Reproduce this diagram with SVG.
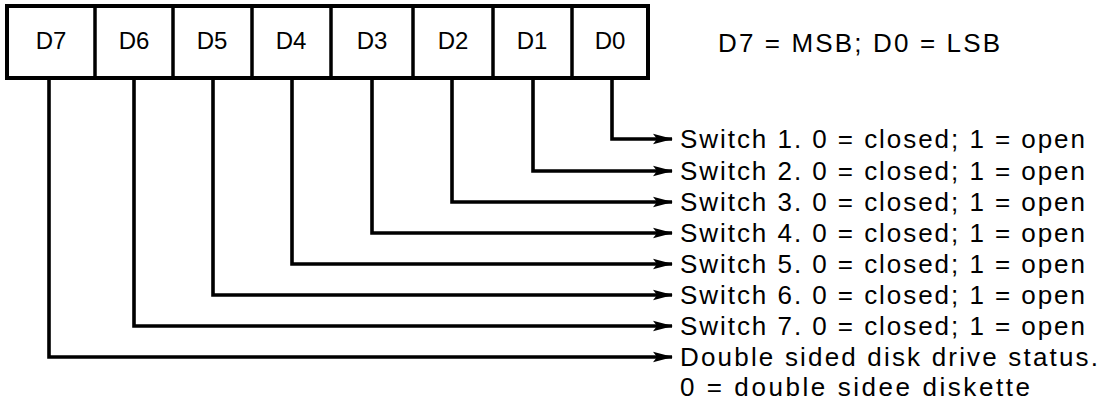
<svg xmlns="http://www.w3.org/2000/svg" width="1103" height="402" viewBox="0 0 1103 402">
<style>
.box{fill:none;stroke:#000;stroke-width:4}
.div{stroke:#000;stroke-width:3.5}
.lbl{font-family:"Liberation Sans",Arial,sans-serif;font-size:24px;fill:#000;text-anchor:middle}
.txt{font-family:"Liberation Sans",Arial,sans-serif;font-size:26px;fill:#000}
.wire{fill:none;stroke:#000;stroke-width:3.6;stroke-linejoin:miter}
</style>
<defs>
<marker id="ah" markerWidth="20" markerHeight="12" refX="19" refY="6" orient="auto" markerUnits="userSpaceOnUse">
<path d="M0,0.8 L20,6 L0,11.2 L4,6 Z" fill="#000"/>
</marker>
</defs>
<rect width="1103" height="402" fill="#fff"/>
<g id="register">
<rect class="box" x="7" y="6" width="641" height="72"/>
<line class="div" x1="95" y1="6" x2="95" y2="78"/>
<line class="div" x1="173" y1="6" x2="173" y2="78"/>
<line class="div" x1="252" y1="6" x2="252" y2="78"/>
<line class="div" x1="331" y1="6" x2="331" y2="78"/>
<line class="div" x1="413" y1="6" x2="413" y2="78"/>
<line class="div" x1="493" y1="6" x2="493" y2="78"/>
<line class="div" x1="572" y1="6" x2="572" y2="78"/>
</g>
<g id="bit-d7"><text class="lbl" x="51" y="49">D7</text></g>
<g id="bit-d6"><text class="lbl" x="134" y="49">D6</text></g>
<g id="bit-d5"><text class="lbl" x="212" y="49">D5</text></g>
<g id="bit-d4"><text class="lbl" x="291" y="49">D4</text></g>
<g id="bit-d3"><text class="lbl" x="372" y="49">D3</text></g>
<g id="bit-d2"><text class="lbl" x="453" y="49">D2</text></g>
<g id="bit-d1"><text class="lbl" x="532" y="49">D1</text></g>
<g id="bit-d0"><text class="lbl" x="610" y="49">D0</text></g>
<g id="legend"><text class="txt" x="718" y="52" textLength="282" lengthAdjust="spacing">D7 = MSB; D0 = LSB</text></g>
<g id="connectors">
<path class="wire" d="M612,78 V139 H672" marker-end="url(#ah)"/>
<path class="wire" d="M533,78 V171 H672" marker-end="url(#ah)"/>
<path class="wire" d="M452,78 V202 H672" marker-end="url(#ah)"/>
<path class="wire" d="M372,78 V233 H672" marker-end="url(#ah)"/>
<path class="wire" d="M292,78 V264 H672" marker-end="url(#ah)"/>
<path class="wire" d="M213,78 V295 H672" marker-end="url(#ah)"/>
<path class="wire" d="M134,78 V326 H672" marker-end="url(#ah)"/>
<path class="wire" d="M49,78 V357 H672" marker-end="url(#ah)"/>
</g>
<g id="desc-d0"><text class="txt" x="680" y="148" textLength="405" lengthAdjust="spacing">Switch 1. 0 = closed; 1 = open</text></g>
<g id="desc-d1"><text class="txt" x="680" y="180" textLength="405" lengthAdjust="spacing">Switch 2. 0 = closed; 1 = open</text></g>
<g id="desc-d2"><text class="txt" x="680" y="211" textLength="405" lengthAdjust="spacing">Switch 3. 0 = closed; 1 = open</text></g>
<g id="desc-d3"><text class="txt" x="680" y="242" textLength="405" lengthAdjust="spacing">Switch 4. 0 = closed; 1 = open</text></g>
<g id="desc-d4"><text class="txt" x="680" y="273" textLength="405" lengthAdjust="spacing">Switch 5. 0 = closed; 1 = open</text></g>
<g id="desc-d5"><text class="txt" x="680" y="304" textLength="405" lengthAdjust="spacing">Switch 6. 0 = closed; 1 = open</text></g>
<g id="desc-d6"><text class="txt" x="680" y="335" textLength="405" lengthAdjust="spacing">Switch 7. 0 = closed; 1 = open</text></g>
<g id="desc-d7"><text class="txt" x="680" y="366" textLength="418" lengthAdjust="spacing">Double sided disk drive status.</text><text class="txt" x="680" y="396" textLength="350" lengthAdjust="spacing">0 = double sidee diskette</text></g>
</svg>
